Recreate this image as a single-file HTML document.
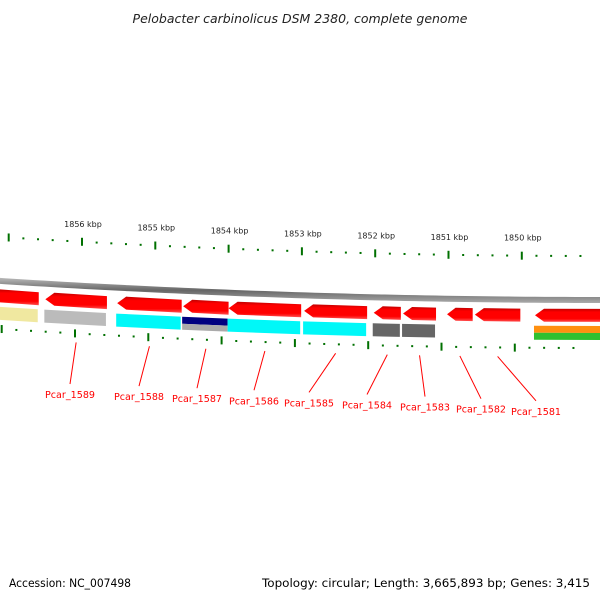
<!DOCTYPE html>
<html><head><meta charset="utf-8"><style>
body{margin:0;background:#fff}
svg{display:block}
text{font-family:"DejaVu Sans","Liberation Sans",sans-serif}
</style></head><body>
<svg width="600" height="600" viewBox="0 0 600 600">
<defs>
<linearGradient id="gRed" x1="0" y1="0" x2="0" y2="1"><stop offset="0" stop-color="#c00000"/><stop offset="0.25" stop-color="#ff0000"/><stop offset="0.75" stop-color="#ff0000"/><stop offset="1" stop-color="#ff5050"/></linearGradient>
<linearGradient id="gBack" x1="0" y1="0" x2="0" y2="1"><stop offset="0" stop-color="#bbb"/><stop offset="0.5" stop-color="#666"/><stop offset="1" stop-color="#aaa"/></linearGradient>
</defs>
<text x="300" y="23" text-anchor="middle" font-size="12.5" font-style="italic" fill="#222">Pelobacter carbinolicus DSM 2380, complete genome</text>
<g id="ticks"></g>
<g id="backbone"></g>
<g id="genes"></g>
<g id="labels"></g>
<text x="9" y="587" font-size="11.5" fill="#000" textLength="122" lengthAdjust="spacingAndGlyphs">Accession: NC_007498</text>
<text x="262" y="587" font-size="11.5" fill="#000" textLength="328" lengthAdjust="spacingAndGlyphs">Topology: circular; Length: 3,665,893 bp; Genes: 3,415</text>
</svg>
<script>
const majorTicks=[1857,1856,1855,1854,1853,1852,1851,1850,1849];
const geneNames=[null,"Pcar_1589","Pcar_1588","Pcar_1587","Pcar_1586","Pcar_1585","Pcar_1584","Pcar_1583","Pcar_1582","Pcar_1581"];
const geneStart=[1857.3,1856.50,1855.52,1854.62,1854.00,1852.97,1852.02,1851.62,1851.02,1850.64,1849.82];
const geneEnd=[1856.59,1855.66,1854.64,1854.00,1853.01,1852.11,1851.65,1851.17,1850.67,1850.02,1848.7];
const featColor=["#f0e8a0","#bbbbbb","#00f8f8","#000080","#00f8f8","#00f8f8","#666666","#666666",null,null,"#ff9010"];
const labelGene=[1,2,3,4,5,6,7,8,9,10];

const NS="http://www.w3.org/2000/svg";
function X(k){return 82+(1856-k)*73.3;}
function F(x){return -5.3e-5*(x-600)*(x-600);}
function mk(tag,attrs,parent){const e=document.createElementNS(NS,tag);for(const a in attrs)e.setAttribute(a,attrs[a]);parent.appendChild(e);return e;}
const ticks=document.getElementById('ticks');
for(let i=0;i<majorTicks.length-1;i++){
  for(let j=0;j<5;j++){
    const k=majorTicks[i]-j*0.2, x=X(k), y0=F(x);
    const major=j===0;
    const t=mk('line',{x1:x,x2:x,y1:256+y0-(major?4:1),y2:256+y0+(major?4:1),stroke:'#007000','stroke-width':2},ticks);
    
    
    const xb=x-7, yb=F(xb);
    const b=mk('line',{x1:xb,x2:xb,y1:348+yb-(major?4:1),y2:348+yb+(major?4:1),stroke:'#007000','stroke-width':2},ticks);
    
    
    if(major&&majorTicks[i]<=1856){
      const l=mk('text',{x:x+1,y:241+y0,'font-size':8,'text-anchor':'middle',fill:'#222'},ticks);
      l.textContent=majorTicks[i]+' kbp';
      
      
    }
  }
}
let d='';for(let x=-5;x<=605;x+=10){d+=(x<0?'M':'L')+x+','+(297+F(x));}
for(let x=605;x>=-5;x-=10){d+='L'+x+','+(303+F(x));}
const bb=mk('path',{d:d+'Z',fill:'url(#gBack)'},document.getElementById('backbone'));


const genes=document.getElementById('genes');
function band(x1,x2,top,h,arrow,fill,name){
  const a=arrow?Math.min(9,(x2-x1)/3):0;
  const f1=F(x1),f2=F(x2);
  const p=[[x1+a,top+f1],[x2,top+f2],[x2,top+h+f2],[x1+a,top+h+f1]];
  if(arrow)p.push([x1,top+h/2+f1]);
  const e=mk('polygon',{points:p.map(q=>q.join(',')).join(' '),fill:fill},genes);
  
  
  return e;
}
for(let i=0;i<geneStart.length;i++){
  const x1=X(geneStart[i]),x2=X(geneEnd[i]);
  band(x1,x2,309,13,true,'url(#gRed)','gene-arrow');
  const c=featColor[i];
  if(c){
    if(i===3){band(x1-1,x2-1,326,7,false,'#000080','feature-band');band(x1-1,x2-1,333,6,false,'#aaaaaa','feature-band');}
    else if(i===10){band(x1-1,x2-1,326,7,false,'#ff9010','feature-band');band(x1-1,x2-1,333,7,false,'#30c030','feature-band');}
    else{band(x1-1,x2-1,326,13,false,c,'feature-band');}
  }
}
const lab=document.getElementById('labels');
const lblX=[70,139,197,254,309,367,425,481,536];
for(let j=0;j<labelGene.length-1;j++){
  const g=labelGene[j];
  const gx=(X(geneStart[g])+X(geneEnd[g]))/2;
  const y1=343+F(gx)+14;
  const tx=lblX[j], ty=384+j*2.1;
  const ln=mk('line',{x1:gx,y1:y1,x2:tx,y2:ty,stroke:'#ff0000','stroke-width':1},lab);
  
  
  const t=mk('text',{x:tx,y:ty+14,'font-size':9.5,'text-anchor':'middle',fill:'#ff0000',textLength:50,lengthAdjust:'spacingAndGlyphs'},lab);
  t.textContent=geneNames[j+1];
  
  
}
</script>
</body></html>
